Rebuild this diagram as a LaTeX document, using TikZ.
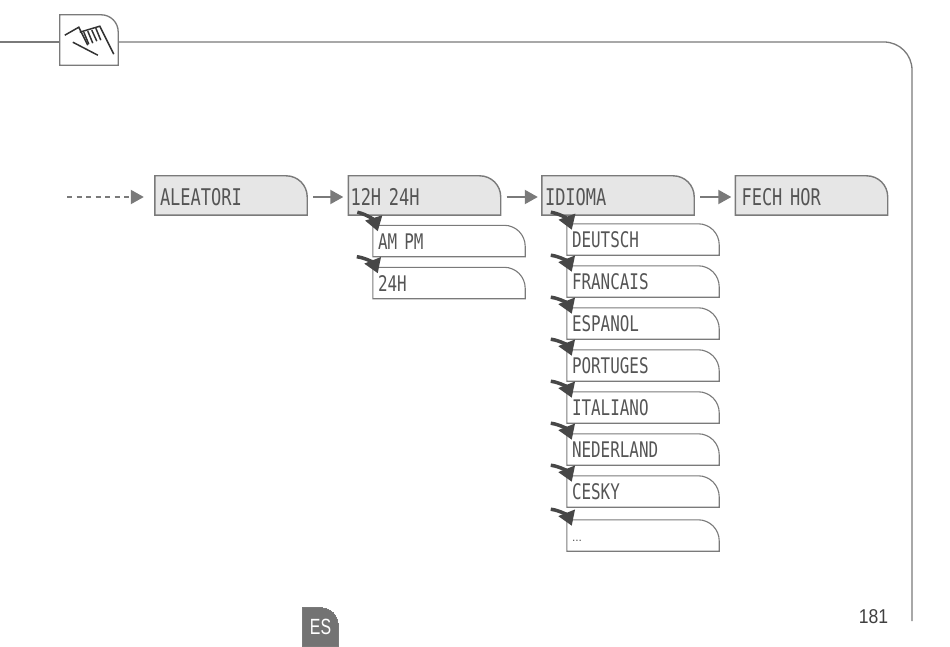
\documentclass[tikz,border=0pt]{standalone}
\usepackage{fontspec}
\setmainfont{Liberation Sans}
\newfontfamily\lcdfont[FakeStretch=0.74]{DejaVu Sans Mono}
\newfontfamily\tabfont[FakeStretch=0.72]{Liberation Sans}
\newfontfamily\pagefont[FakeStretch=0.88]{Liberation Sans}
\usetikzlibrary{arrows.meta,backgrounds,calc,positioning}
\definecolor{lineGray}{HTML}{7A7A7A}
\definecolor{lcdGray}{HTML}{555555}
\definecolor{boxGray}{HTML}{E6E6E6}
\definecolor{tabGray}{HTML}{737373}

\tikzset{
	cornerbox/.style n args={3}{append after command={\pgfextra{
		\begin{pgfonlayer}{background}
		\draw[line width=#3,draw=lineGray,fill=#1] (\tikzlastnode.south west) -- (\tikzlastnode.north west)
			-- ([xshift=-#2]\tikzlastnode.north east) arc[start angle=90,end angle=0,radius=#2]
			-- (\tikzlastnode.south east) -- cycle;
		\end{pgfonlayer}}}},
	menubox/.style={minimum height=39pt, text width=142pt, inner xsep=5pt, inner ysep=0pt, align=left,
		text height=19pt, text depth=0pt,
		text=lcdGray, font=\lcdfont\fontsize{23}{23}\selectfont, cornerbox={boxGray}{21pt}{1.4pt}},
	subbox/.style={minimum height=31pt, text width=142pt, inner xsep=5pt, inner ysep=0pt, align=left,
		text height=16pt, text depth=0pt,
		text=lcdGray, font=\lcdfont\fontsize{21.5}{21.5}\selectfont, cornerbox={white}{21pt}{1.1pt}},
	nextarrow/.style={-{Triangle[length=13pt,width=14pt]},line width=2pt,draw=lineGray},
	subarrow/.style={-{Triangle[length=14pt,width=17pt]},line width=3.5pt,draw=black!72,bend left=30},
	handline/.style={line width=1.5pt,draw=black!80}
}

\begin{document}
\begin{tikzpicture}[x=1pt,y=-1pt,node distance=193.5pt]

	\useasboundingbox (0,0) rectangle (950,647);

	%page frame and hand tab
	\node[minimum width=58pt,minimum height=50pt,inner sep=0pt,cornerbox={white}{17pt}{1.3pt}]
	(handtab) at (89,40) {};

	\coordinate (frameleft) at (0,42);
	\coordinate (frameend) at (912,621);
	\draw[line width=1.3pt,draw=lineGray] (frameleft) -- (handtab.west |- frameleft);
	\draw[line width=1.3pt,draw=lineGray] (handtab.east |- frameleft) -- (884,42)
		arc[start angle=90,end angle=0,radius=28pt] -- (frameend);

	%hand icon
	\draw[handline] ($(handtab.south west)+(5,-30)$) -- ($(handtab.south west)+(19,-38)$)
		-- ($(handtab.south west)+(28,-20)$);
	\draw[handline] ($(handtab.south west)+(20,-33)$) -- ($(handtab.south west)+(40,-39)$)
		-- ($(handtab.south west)+(54,-11)$);
	\draw[handline] ($(handtab.south west)+(24,-33)$) -- ($(handtab.south west)+(29,-21)$);
	\draw[handline] ($(handtab.south west)+(28,-34)$) -- ($(handtab.south west)+(33,-22)$);
	\draw[handline] ($(handtab.south west)+(32,-35)$) -- ($(handtab.south west)+(37,-24)$);
	\draw[handline] ($(handtab.south west)+(36,-37)$) -- ($(handtab.south west)+(41,-25)$);
	\draw[handline] ($(handtab.south west)+(13,-23)$) -- ($(handtab.south west)+(38,-10)$);

	%main menu
	\node[menubox]
	(aleatori) at (231,195.5)
	{ALEATORI};

	\node[menubox]
	(hours) [right of=aleatori]
	{\hspace*{-3pt}12H 24H};

	\node[menubox]
	(idioma) [right of=hours]
	{\hspace*{-2pt}IDIOMA};

	\node[menubox]
	(fechhor) [right of=idioma]
	{\hspace*{1pt}FECH HOR};

	%hour entries
	\node[subbox]
	(ampm) at (449,241)
	{AM PM};

	\node[subbox,node distance=42pt]
	(h24) [below of=ampm]
	{24H};

	%language entries
	\node[subbox]
	(deutsch) at (643,239.5)
	{DEUTSCH};

	\node[subbox,node distance=42pt]
	(francais) [below of=deutsch]
	{FRANCAIS};

	\node[subbox,node distance=42pt]
	(espanol) [below of=francais]
	{ESPANOL};

	\node[subbox,node distance=42pt]
	(portuges) [below of=espanol]
	{PORTUGES};

	\node[subbox,node distance=42pt]
	(italiano) [below of=portuges]
	{ITALIANO};

	\node[subbox,node distance=42pt]
	(nederland) [below of=italiano]
	{NEDERLAND};

	\node[subbox,node distance=42pt]
	(cesky) [below of=nederland]
	{CESKY};

	\node[subbox,node distance=44pt,text height=12pt,font=\fontsize{12}{12}\selectfont]
	(more) [below of=cesky]
	{...};

	%page marks
	\node[minimum width=35pt,minimum height=38pt,inner sep=0pt,text=white,
		font=\tabfont\fontsize{22}{22}\selectfont,cornerbox={tabGray}{17pt}{0pt}]
	(langtab) at (320.5,627)
	{ES};

	\node[text=black!75,inner sep=0pt,font=\pagefont\fontsize{20}{20}\selectfont]
	(pagenum) at (873.5,616.5)
	{181};

	%arrows
	\coordinate (lead) at (67,197);
	\draw[nextarrow,dash pattern=on 5pt off 4.5pt] (lead) -- ([shift={(-11,1.5)}]aleatori.west);
	\draw[nextarrow] ([shift={(6,1.5)}]aleatori.east) -- ([shift={(-5,1.5)}]hours.west);
	\draw[nextarrow] ([shift={(6,1.5)}]hours.east) -- ([shift={(-4,1.5)}]idioma.west);
	\draw[nextarrow] ([shift={(6,1.5)}]idioma.east) -- ([shift={(-4,1.5)}]fechhor.west);

	\draw[subarrow] ($(hours.south west)+(9,-3)$) to ($(ampm.north west)+(5,6)$);
	\draw[subarrow] ($(ampm.south west)+(-16,0)$) to ($(h24.north west)+(5,6)$);

	\draw[subarrow] ($(idioma.south west)+(9,-3)$) to ($(deutsch.north west)+(5,6)$);
	\draw[subarrow] ($(deutsch.south west)+(-16,0)$) to ($(francais.north west)+(5,6)$);
	\draw[subarrow] ($(francais.south west)+(-16,0)$) to ($(espanol.north west)+(5,6)$);
	\draw[subarrow] ($(espanol.south west)+(-16,0)$) to ($(portuges.north west)+(5,6)$);
	\draw[subarrow] ($(portuges.south west)+(-16,0)$) to ($(italiano.north west)+(5,6)$);
	\draw[subarrow] ($(italiano.south west)+(-16,0)$) to ($(nederland.north west)+(5,6)$);
	\draw[subarrow] ($(nederland.south west)+(-16,0)$) to ($(cesky.north west)+(5,6)$);
	\draw[subarrow] ($(cesky.south west)+(-16,2)$) to ($(more.north west)+(5,6)$);

\end{tikzpicture}
\end{document}
